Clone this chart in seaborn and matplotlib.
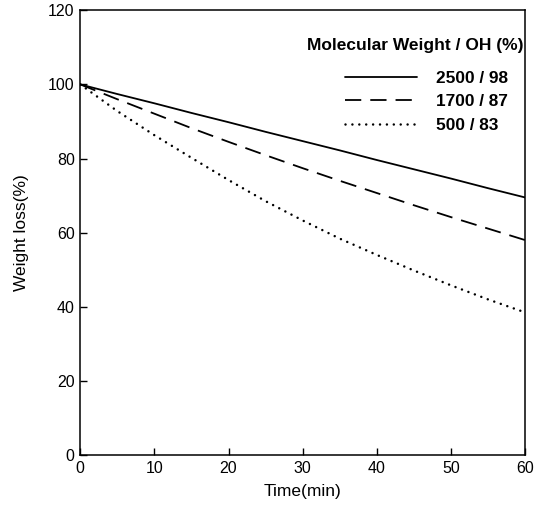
import matplotlib
matplotlib.use("Agg")
import matplotlib.pyplot as plt
import seaborn as sns
import pandas as pd

sns.set_style("white")
plt.rcParams['font.family'] = ['Liberation Sans', 'DejaVu Sans']
plt.rcParams['text.color'] = 'black'
plt.rcParams['axes.labelcolor'] = 'black'
plt.rcParams['xtick.color'] = 'black'
plt.rcParams['ytick.color'] = 'black'

time = [0, 5, 10, 15, 20, 25, 30, 35, 40, 45, 50, 55, 60]
s2500 = [100, 97.4, 94.9, 92.3, 89.8, 87.2, 84.7, 82.2, 79.6, 77.1, 74.6, 72.0, 69.5]
s1700 = [100, 96.0, 92.1, 88.2, 84.5, 80.9, 77.4, 74.0, 70.7, 67.4, 64.2, 61.1, 58.0]
s500 = [100, 92.8, 86.3, 80.2, 74.2, 68.5, 63.3, 58.4, 54.0, 49.8, 45.8, 42.0, 38.5]
labels = ["2500 / 98", "1700 / 87", "500 / 83"]
legend_title = "Molecular Weight / OH (%)"

rows = []
for lab, vals in zip(labels, [s2500, s1700, s500]):
    for t, v in zip(time, vals):
        rows.append({"Time": t, "Loss": v, "Series": lab})
df = pd.DataFrame(rows)

fig = plt.figure(figsize=(5.42, 5.12), dpi=100)
ax = fig.add_axes([0.148, 0.111, 0.821, 0.869])
sns.lineplot(data=df, x="Time", y="Loss", hue="Series", style="Series",
             palette=["black"] * 3, hue_order=labels, style_order=labels,
             dashes=[(None, None), (9, 5), (1, 3.5)], linewidth=1.3, ax=ax,
             legend=False)
ax.lines[2].set_linewidth(1.8)
ax.lines[2].set_linestyle((0, (0.01, 2.75)))
ax.lines[2].set_dash_capstyle('round')

ax.set_xlim(0, 60)
ax.set_ylim(0, 120)
ax.set_xticks(range(0, 61, 10))
ax.set_yticks(range(0, 121, 20))
ax.tick_params(direction='in', length=5, width=1, labelsize=11.5, pad=4,
               bottom=True, left=True, top=False, right=False)
for sp in ax.spines.values():
    sp.set_color('black')
    sp.set_linewidth(1.1)
ax.set_xlabel("Time(min)", fontsize=12.5, labelpad=6)
ax.set_ylabel("Weight loss(%)", fontsize=12.5, labelpad=14)

ax.text(0.9955, 0.921, legend_title, transform=ax.transAxes, ha='right', va='center',
        fontsize=12.5, fontweight='bold')
leg = ax.legend(ax.lines[:3], labels, loc='upper right', bbox_to_anchor=(0.962, 0.864),
                frameon=False, handlelength=4.2, handletextpad=1.1,
                labelspacing=0.5, borderpad=0, borderaxespad=0,
                prop={'weight': 'bold', 'size': 12.4})

fig.savefig("out.png", dpi=100)
